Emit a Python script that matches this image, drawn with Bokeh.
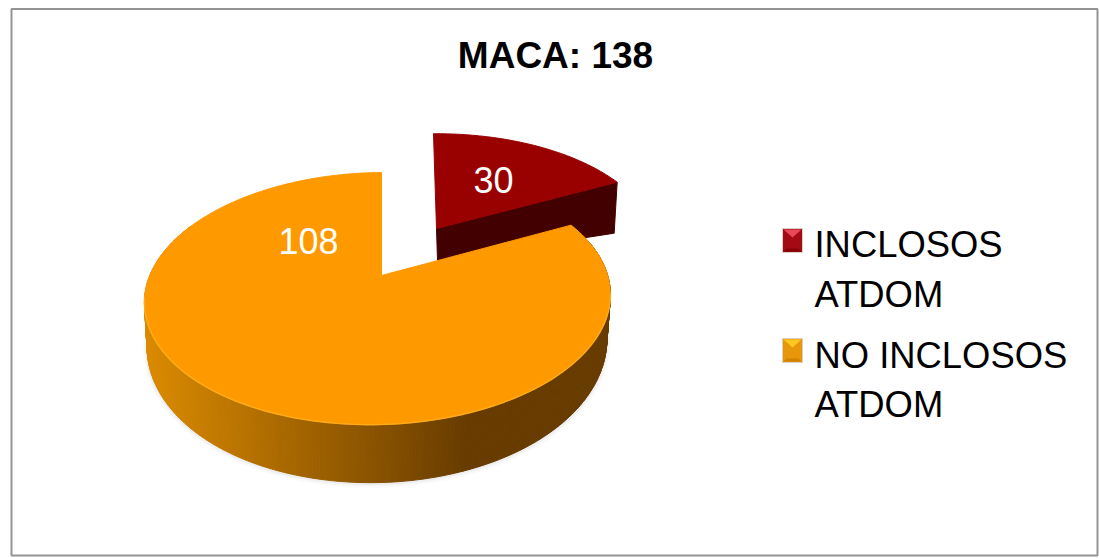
import numpy as np
from bokeh.core.properties import value
from bokeh.embed import file_html
from bokeh.models import Range1d
from bokeh.plotting import figure
from bokeh.resources import INLINE

title = "MACA: 138"
categories = ["INCLOSOS ATDOM", "NO INCLOSOS ATDOM"]
legend_lines = [["INCLOSOS", "ATDOM"], ["NO INCLOSOS", "ATDOM"]]
values = [30, 108]

FONT = value("Liberation Sans")
TEXT_SHIFT = -13
# The drawn sector is slightly narrower than its share after the 3-D view.
VIEW_SWEEP = 0.828
red_sweep = 2 * np.pi * values[0] / sum(values) * VIEW_SWEEP


def disc(theta):
    """Perspective projection of the pie disc; theta clockwise from the top."""
    u, v = np.sin(theta), np.cos(theta)
    d = 1 + 0.1826 * v + 0.0172 * u
    return (229 * u) / d, (-121.8 * v - 3.5 * u) / d, v


def orange_top(theta):
    x, y, _ = disc(theta)
    return 381 + x, 275 + y


def orange_bottom(theta):
    x, y, v = disc(theta)
    return 381 + 0.987 * x - 0.5, 275 + y + 41 - 17 * v


def red_top(theta):
    x, y, v = disc(theta)
    return 436 + 0.96 * x - 3 * v, 228 + 0.92 * y


def mix(a, b, t):
    c = [int(round(a[i] + (b[i] - a[i]) * t)) for i in range(3)]
    return "#%02x%02x%02x" % tuple(c)


p = figure(width=1099, height=558, output_backend="svg", toolbar_location=None,
           x_range=Range1d(0, 1099), y_range=Range1d(558, 0),
           min_border=0, outline_line_color=None, background_fill_color="white")
p.axis.visible = False
p.grid.visible = False

# chart frame
p.quad(left=[11], right=[1097], top=[8.5], bottom=[555], fill_color=None,
       line_color="#949494", line_width=2)

# red wedge: cut face then top
ex, ey = red_top(np.array(red_sweep))
p.patch([436, float(ex), float(ex) - 3, 437], [228, float(ey), float(ey) + 51, 260],
        fill_color="#420000", line_color="#420000", line_width=1)
th_r = np.linspace(0, red_sweep, 60)
rx, ry = red_top(th_r)
p.patch([436, *rx], [228, *ry], fill_color="#990000", line_color="#990000", line_width=1)

# soft shadow below the base
th_s = np.linspace(np.radians(95), np.radians(265), 120)
sx, sy = orange_bottom(th_s)
for w, a in [(9, 0.02), (6, 0.03), (3, 0.05)]:
    p.line(sx, sy + 1, line_color="#505050", line_alpha=a, line_width=w)

# orange side wall, shaded across its width
th = np.linspace(red_sweep, 2 * np.pi, 400)
xs, ys, colors = [], [], []
left_c, right_c = (218, 138, 0), (104, 60, 0)
for a, b in zip(th[:-1], th[1:]):
    if np.cos((a + b) / 2) > 0.45:
        continue
    tx0, ty0 = orange_top(a)
    tx1, ty1 = orange_top(b)
    bx0, by0 = orange_bottom(a)
    bx1, by1 = orange_bottom(b)
    xs.append([tx0, tx1, bx1, bx0])
    ys.append([ty0, ty1, by1, by0])
    t = min(max(((tx0 + tx1) / 2 - 147) / (465 - 147), 0), 1)
    colors.append(mix(left_c, right_c, t))
p.patches(xs, ys, fill_color=colors, line_color=colors, line_width=1)

# orange top
ox, oy = orange_top(th)
p.patch([381, *ox], [275, *oy], fill_color="#FF9900", line_color="#FF9900", line_width=1)
th_h = np.linspace(np.radians(100), np.radians(262), 120)
hx, hy = orange_top(th_h)
p.line(hx, hy, line_color="#FFB020", line_width=1.5, line_alpha=0.8)

# data labels
p.text(x=[493], y=[192 + TEXT_SHIFT], text=[str(values[0])], text_color="white", text_font=FONT,
       text_font_size="36px", text_align="center", text_baseline="alphabetic")
p.text(x=[308], y=[253 + TEXT_SHIFT], text=[str(values[1])], text_color="white", text_font=FONT,
       text_font_size="36px", text_align="center", text_baseline="alphabetic")

# title
p.text(x=[555], y=[68 + TEXT_SHIFT], text=[title], text_color="black", text_font=FONT,
       text_font_style="bold", text_font_size="37px", text_align="center",
       text_baseline="alphabetic")

# legend
styles = [("#A30A14", "#E84858", "#860008"), ("#E8960A", "#FFC820", "#CF8200")]
for i, (top_y, base_ys) in enumerate([(228, (257, 307)), (338, (368, 417))]):
    body, light, dark = styles[i]
    L, R, T, B = 782, 802, top_y, top_y + 24
    p.quad(left=[L], right=[R], top=[T], bottom=[B], fill_color=body, line_color="#d8d0c8", line_width=1)
    p.patch([L + 1, R - 1, (L + R) / 2], [T + 1, T + 1, T + 9], fill_color=light, line_color=None)
    p.patch([L + 1, R - 1, R - 4, L + 4], [B - 1, B - 1, B - 4, B - 4], fill_color=dark, line_color=None)
    for line, by in zip(legend_lines[i], base_ys):
        p.text(x=[814], y=[by + TEXT_SHIFT], text=[line], text_color="black", text_font=FONT,
               text_font_size="36.4px", text_align="left", text_baseline="alphabetic")

open("out.html", "w").write(file_html(p, INLINE))
